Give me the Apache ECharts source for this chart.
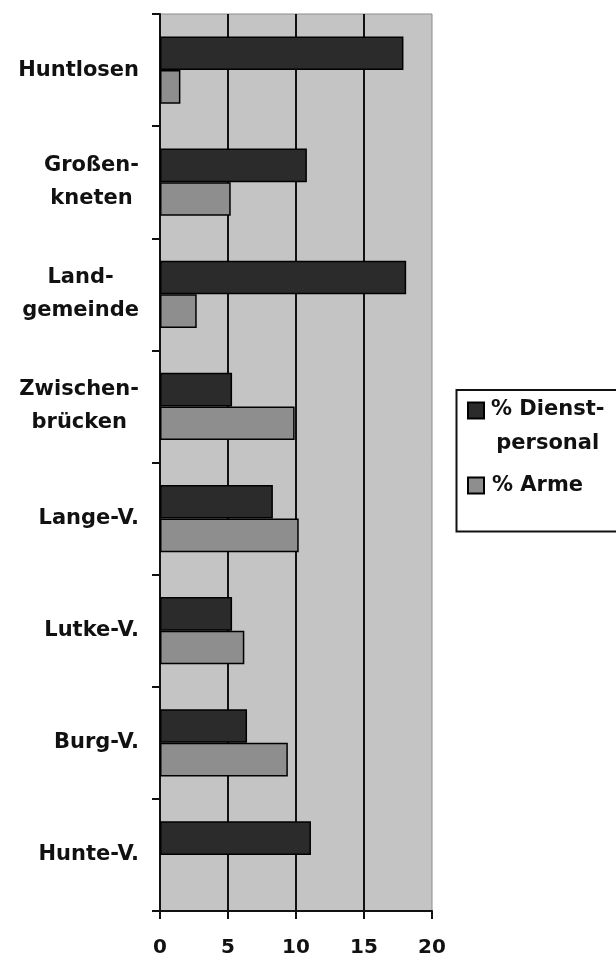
<!DOCTYPE html>
<html><head><meta charset="utf-8">
<script src="https://cdn.jsdelivr.net/npm/echarts@6/dist/echarts.min.js"></script>
<style>html,body{margin:0;padding:0;background:#fff;}#c{width:616px;height:959px;}</style>
</head><body><div id="c"></div>
<script>
const categories = ['Huntlosen', 'Großen-\nkneten', 'Land-\ngemeinde', 'Zwischen-\nbrücken', 'Lange-V.', 'Lutke-V.', 'Burg-V.', 'Hunte-V.'];
const dienstpersonal = [17.9, 10.8, 18.1, 5.3, 8.3, 5.3, 6.4, 11.1];
const arme = [1.5, 5.2, 2.7, 9.9, 10.2, 6.2, 9.4, null];
const xTicks = [0, 5, 10, 15, 20];
const seriesNames = ['% Dienst-personal', '% Arme'];

const FONT = 'DejaVu Sans';
const chart = echarts.init(document.getElementById('c'), null, {renderer: 'canvas'});
const option = {
  animation: false,
  backgroundColor: '#fff',
  grid: {left: 160, right: 184, top: 14, bottom: 48, show: true, backgroundColor: '#c4c4c4', borderColor: '#8c8c8c', borderWidth: 1},
  xAxis: {
    type: 'value', min: xTicks[0], max: xTicks[xTicks.length - 1], interval: xTicks[1] - xTicks[0],
    axisLine: {show: true, lineStyle: {color: '#111', width: 2}},
    axisTick: {show: true, length: 8, lineStyle: {color: '#111', width: 2}},
    splitLine: {show: true, showMinLine: false, showMaxLine: false, lineStyle: {color: '#111', width: 2}},
    axisLabel: {margin: 27, fontFamily: FONT, fontWeight: 'bold', fontSize: 20, color: '#111'}
  },
  yAxis: {
    type: 'category', inverse: true, data: categories,
    axisLine: {show: true, lineStyle: {color: '#111', width: 2}},
    axisTick: {show: true, length: 8, lineStyle: {color: '#111', width: 2}},
    axisLabel: {
      margin: 21,
      formatter: v => v.split('\n').map(s => '{c|' + s + '}').join('\n'),
      rich: {c: {align: 'center', fontFamily: FONT, fontWeight: 'bold', fontSize: 21, lineHeight: 33, color: '#111'}}
    }
  },
  graphic: [{
    type: 'rect', z: 0,
    shape: {x: 456.5, y: 390, width: 170, height: 141.5},
    style: {fill: '#fff', stroke: '#111', lineWidth: 2}
  }],
  legend: [{
    data: [seriesNames[0]], left: 467, top: 399.5, orient: 'vertical', padding: 0,
    itemWidth: 16, itemHeight: 16, icon: 'rect',
    formatter: () => '{a|% Dienst-}\n{a|personal}',
    textStyle: {padding: [33, 0, 0, 2], rich: {a: {align: 'center', fontFamily: FONT, fontWeight: 'bold', fontSize: 21, lineHeight: 34, color: '#111'}}}
  }, {
    data: [seriesNames[1]], left: 467, top: 475, orient: 'vertical', padding: 0,
    itemWidth: 16, itemHeight: 16, icon: 'rect',
    textStyle: {padding: [0, 0, 0, 3], fontFamily: FONT, fontWeight: 'bold', fontSize: 21, lineHeight: 16, color: '#111'}
  }],
  series: [{
    name: seriesNames[0], type: 'bar', data: dienstpersonal, barGap: '0%', barCategoryGap: '40%',
    itemStyle: {color: '#2b2b2b', borderColor: '#000', borderWidth: 1.5}
  }, {
    name: seriesNames[1], type: 'bar', data: arme,
    itemStyle: {color: '#8e8e8e', borderColor: '#000', borderWidth: 1.5}
  }]
};
chart.setOption(option);
</script>
</body></html>
